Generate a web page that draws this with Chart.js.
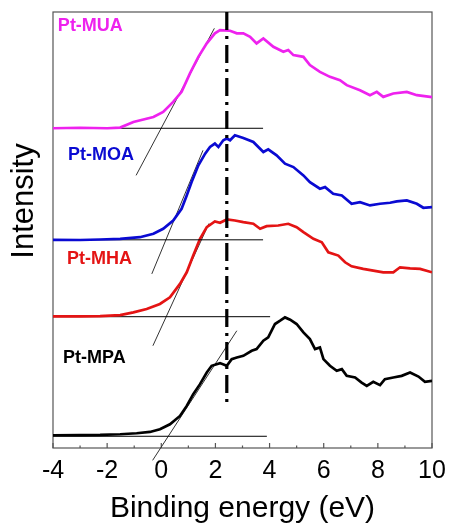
<!DOCTYPE html>
<html>
<head>
<meta charset="utf-8">
<script src="https://cdn.jsdelivr.net/npm/chart.js@4.4.1/dist/chart.umd.min.js"></script>
<style>
  body { margin: 0; background: #fff; }
</style>
</head>
<body>
<canvas id="upsChart" width="450" height="527"></canvas>
<script>
// valence band spectra, binding energy (eV) vs intensity (a.u., stacked)
var muaE = [-4, -3, -2, -1.52, -1.03, -0.29, 0.07, 0.44, 0.75, 1.06, 1.37, 1.68, 1.98, 2.17, 2.54, 2.79, 3.03, 3.28, 3.52, 3.77, 4.14, 4.51, 4.69, 4.88, 5.25, 5.49, 5.86, 6.23, 6.60, 6.85, 7.34, 7.71, 7.96, 8.20, 8.57, 9.07, 9.44, 9.93, 10];
var muaI = [319, 319.5, 319, 319.7, 325.3, 330.3, 335.3, 345.3, 355.3, 373.7, 390.3, 403.7, 413.7, 417, 416.3, 413.7, 413.7, 410.3, 403.7, 408.7, 400.3, 395.3, 397, 392, 390.3, 382, 375.3, 370.3, 367, 362, 357, 352, 355.3, 350.3, 353.7, 355.3, 352, 350.3, 350];

var moaE = [-4, -3, -2.26, -1.52, -0.79, -0.29, 0.07, 0.44, 0.75, 0.94, 1.12, 1.37, 1.62, 1.80, 1.98, 2.11, 2.29, 2.42, 2.54, 2.72, 3.03, 3.40, 3.77, 3.95, 4.26, 4.57, 4.88, 5.25, 5.49, 5.86, 6.05, 6.35, 6.67, 7.03, 7.34, 7.71, 8.08, 8.45, 8.70, 9.07, 9.44, 9.68, 10];
var moaI = [207.7, 207.5, 208, 208.7, 210.3, 213.7, 218.7, 227, 238.7, 252, 265.3, 282, 293.7, 300.3, 303.7, 300.3, 307, 308.7, 307, 312, 309.3, 305.3, 295.3, 298, 292, 283.7, 280.3, 272, 265.3, 258.7, 260.3, 253.7, 252, 243.7, 245.3, 242, 243.7, 244.7, 246, 247, 243.7, 239.7, 240.3];

var mhaE = [-4, -3, -2.26, -1.52, -1.03, -0.54, -0.05, 0.32, 0.69, 0.94, 1.18, 1.43, 1.68, 1.98, 2.17, 2.42, 2.72, 3.03, 3.40, 3.65, 3.89, 4.32, 4.69, 5.00, 5.25, 5.62, 5.93, 6.17, 6.54, 6.79, 7.03, 7.46, 7.83, 8.20, 8.57, 8.82, 9.19, 9.56, 10];
var mhaI = [131.3, 131.3, 131.5, 132.5, 135.3, 138.7, 143.7, 150.3, 163.7, 175.3, 192, 208.7, 220.3, 226, 224.7, 228, 227, 225.3, 223.7, 218.7, 221.3, 222, 223.7, 220.3, 215.3, 208.7, 205.3, 195.3, 192, 185.3, 181.3, 178.7, 177, 175.3, 175.3, 180.3, 179.3, 178.7, 175.3];

var mpaE = [-4, -3, -2.26, -1.52, -0.91, -0.42, -0.05, 0.32, 0.69, 0.94, 1.18, 1.43, 1.68, 1.86, 2.17, 2.42, 2.60, 2.79, 3.03, 3.34, 3.52, 3.77, 3.95, 4.20, 4.39, 4.57, 4.76, 5.00, 5.25, 5.49, 5.68, 5.86, 5.99, 6.23, 6.48, 6.67, 6.85, 7.16, 7.40, 7.59, 7.83, 8.08, 8.26, 8.57, 8.88, 9.19, 9.50, 9.74, 10];
var mpaI = [12.7, 12.8, 13, 13.7, 14.7, 16, 18.7, 23.7, 32, 42, 53.7, 63.7, 75.3, 82, 84.7, 82, 88.7, 90.3, 92, 97, 98.7, 107, 110.3, 123.7, 127, 130.3, 128, 123.7, 115.3, 108.7, 98.7, 100.3, 88.7, 82, 77, 78.7, 72, 70.3, 65.3, 62, 66, 62.7, 68.7, 70.3, 72, 75.3, 71.3, 66, 67];

var names = ['Pt-MUA', 'Pt-MOA', 'Pt-MHA', 'Pt-MPA'];
var colors = ['#ee22ee', '#0a0ad2', '#e41414', '#000000'];

// background levels and where the drawn baseline stops
var baseLevel = [319, 207.7, 131, 11.7];
var baseEnd = [3.76, 3.76, 4.02, 3.9];

// onset tangents [E1, I1, E2, I2]
var tangents = [
  [-0.93, 272, 1.96, 418.7],
  [-0.35, 173.7, 1.54, 297],
  [-0.31, 102, 1.76, 224],
  [-0.32, -12.3, 2.79, 117]
];

// dash-dot marker
var markE = 2.42;
var markI = [44, 435];

// label anchors (left edge, middle)
var labelE = [-3.82, -3.45, -3.48, -3.63];
var labelI = [421, 292, 189, 90];

function pts(xs, ys) {
  var out = [];
  for (var i = 0; i < xs.length; i++) out.push({x: xs[i], y: ys[i]});
  return out;
}

var FONT = "'Liberation Sans', Arial, sans-serif";

var datasets = [];
datasets.push({
  data: [{x: markE, y: markI[1]}, {x: markE, y: markI[0]}],
  borderColor: '#000',
  borderWidth: 3.2,
  borderDash: [18, 6, 3, 6],
  pointRadius: 0
});

var curves = [[muaE, muaI], [moaE, moaI], [mhaE, mhaI], [mpaE, mpaI]];
for (var c = 0; c < 4; c++) {
  datasets.push({
    label: names[c],
    data: pts(curves[c][0], curves[c][1]),
    borderColor: colors[c],
    borderWidth: 2.7,
    pointRadius: 0,
    tension: 0
  });
  datasets.push({
    data: [{x: -4, y: baseLevel[c]}, {x: baseEnd[c], y: baseLevel[c]}],
    borderColor: '#000',
    borderWidth: 1,
    pointRadius: 0
  });
  var t = tangents[c];
  datasets.push({
    data: [{x: t[0], y: t[1]}, {x: t[2], y: t[3]}],
    borderColor: '#333',
    borderWidth: 1,
    pointRadius: 0,
    clip: false
  });
}

var framePlugin = {
  id: 'frame',
  beforeDatasetsDraw: function(chart) {
    var ctx = chart.ctx;
    var a = chart.chartArea;
    var xs = chart.scales.x;
    ctx.save();
    ctx.strokeStyle = '#555';
    ctx.lineWidth = 1.2;
    ctx.strokeRect(a.left, a.top, a.right - a.left, a.bottom - a.top);
    ctx.beginPath();
    for (var v = -4; v <= 10; v++) {
      var px = xs.getPixelForValue(v);
      var len = (v % 2 == 0) ? 5 : 2.5;
      ctx.moveTo(px, a.bottom);
      ctx.lineTo(px, a.bottom - len);
    }
    ctx.stroke();
    ctx.restore();
  },
  afterDatasetsDraw: function(chart) {
    var ctx = chart.ctx;
    var xs = chart.scales.x;
    var ys = chart.scales.y;
    ctx.save();
    ctx.font = 'bold 18px ' + FONT;
    ctx.textAlign = 'left';
    ctx.textBaseline = 'middle';
    for (var i = 0; i < names.length; i++) {
      ctx.fillStyle = colors[i];
      ctx.fillText(names[i], xs.getPixelForValue(labelE[i]), ys.getPixelForValue(labelI[i]));
    }
    // y title
    ctx.translate(24, 201);
    ctx.rotate(-Math.PI / 2);
    ctx.font = '31px ' + FONT;
    ctx.fillStyle = '#000';
    ctx.textAlign = 'center';
    ctx.fillText('Intensity', 0, 0);
    ctx.restore();
  }
};

var ctx = document.getElementById('upsChart');
var upsChart = new Chart(ctx, {
  type: 'line',
  data: { datasets: datasets },
  options: {
    responsive: false,
    animation: false,
    layout: { padding: { left: 53, right: 18, top: 12, bottom: 0 } },
    plugins: { legend: { display: false }, tooltip: { enabled: false } },
    scales: {
      x: {
        type: 'linear',
        min: -4,
        max: 10,
        grid: { display: false },
        border: { display: false },
        ticks: {
          stepSize: 2,
          maxRotation: 0,
          autoSkip: false,
          padding: 0,
          color: '#000',
          font: { family: FONT, size: 25 }
        },
        title: {
          display: true,
          text: 'Binding energy (eV)',
          color: '#000',
          font: { family: FONT, size: 30 },
          padding: { top: 5, bottom: 0 }
        }
      },
      y: {
        type: 'linear',
        min: 0,
        max: 435,
        display: false
      }
    }
  },
  plugins: [framePlugin]
});
</script>
</body>
</html>
